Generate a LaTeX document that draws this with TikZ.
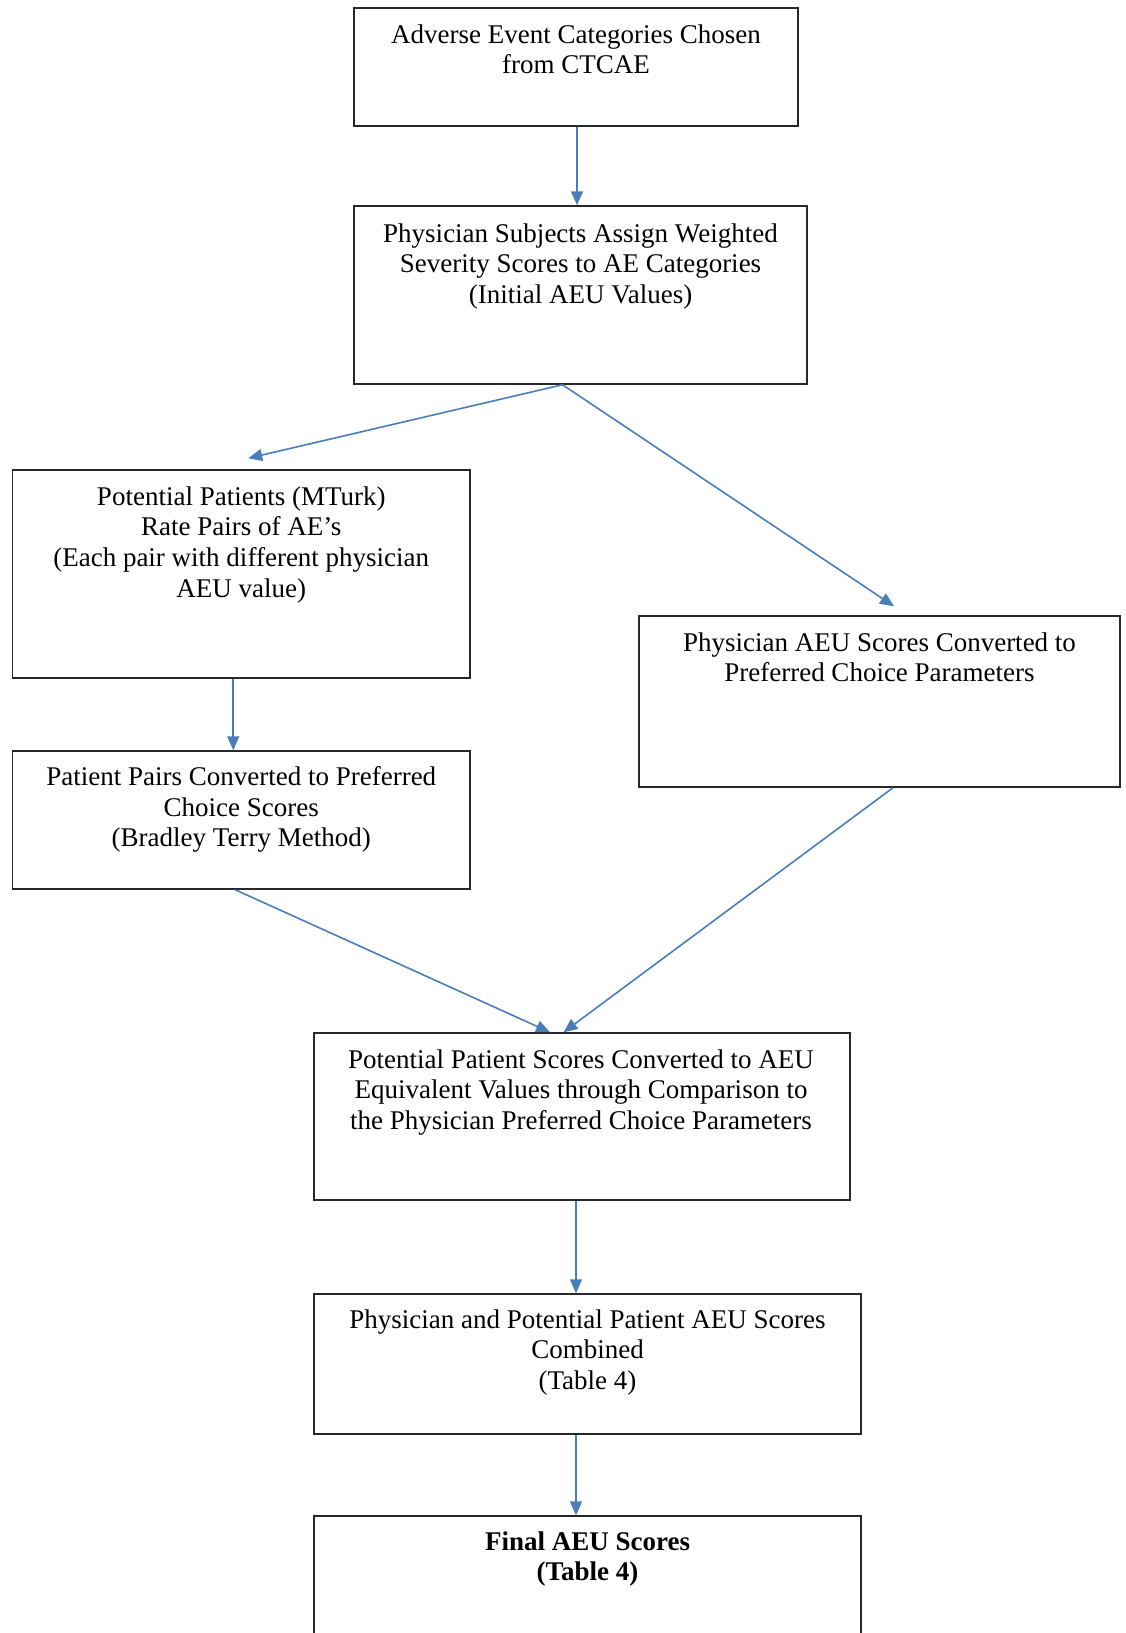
\documentclass[tikz,border=0pt]{standalone}
\usepackage{fontspec}
\setmainfont{Liberation Serif}
\usetikzlibrary{arrows.meta,calc}
\definecolor{arrowblue}{RGB}{74,126,187}
\definecolor{boxline}{RGB}{40,40,40}
\tikzset{
  flowbox/.style={draw=boxline, line width=1.5pt, inner sep=0pt},
  boxtext/.style={anchor=north, inner sep=0pt, align=center, font=\fontsize{27}{30.7}\selectfont},
  flowarrow/.style={draw=arrowblue, line width=1.6pt, -{Triangle[width=12pt,length=14pt]}}
}
\begin{document}
\begin{tikzpicture}[x=1pt,y=-1pt]
\clip (0,0) rectangle (1125,1633);
\useasboundingbox (0,0) rectangle (1125,1633);
\fill[white] (0,0) rectangle (1125,1633);

\node[flowbox, minimum width=444pt, minimum height=118pt] (b1) at (576,67) {};
\node[flowbox, minimum width=453pt, minimum height=178pt] (b2) at (580.5,295) {};
\node[flowbox, minimum width=457.5pt, minimum height=208pt] (b3) at (241.25,574) {};
\node[flowbox, minimum width=481pt, minimum height=171pt] (b4) at (879.5,701.5) {};
\node[flowbox, minimum width=457.5pt, minimum height=138pt] (b5) at (241.25,820) {};
\node[flowbox, minimum width=536pt, minimum height=167pt] (b6) at (582,1116.5) {};
\node[flowbox, minimum width=547pt, minimum height=140pt] (b7) at (587.5,1364) {};
\node[flowbox, minimum width=547pt, minimum height=144pt] (b8) at (587.5,1588) {};

\node[boxtext] (t1) at ([yshift=-17pt]b1.north) {Adverse Event Categories Chosen\\from CTCAE};
\node[boxtext] (t2) at ([yshift=-18pt]b2.north) {Physician Subjects Assign Weighted\\Severity Scores to AE Categories\\(Initial AEU Values)};
\node[boxtext] (t3) at ([yshift=-17pt]b3.north) {Potential Patients (MTurk)\\Rate Pairs of AE’s\\(Each pair with different physician\\AEU value)};
\node[boxtext] (t4) at ([yshift=-17pt]b4.north) {Physician AEU Scores Converted to\\Preferred Choice Parameters};
\node[boxtext] (t5) at ([yshift=-16pt]b5.north) {Patient Pairs Converted to Preferred\\Choice Scores\\(Bradley Terry Method)};
\node[boxtext] (t6) at ([yshift=-17pt,xshift=-1pt]b6.north) {Potential Patient Scores Converted to AEU\\Equivalent Values through Comparison to\\the Physician Preferred Choice Parameters};
\node[boxtext] (t7) at ([yshift=-16pt]b7.north) {Physician and Potential Patient AEU Scores\\Combined\\(Table 4)};
\node[boxtext, font=\fontsize{27}{30.7}\selectfont\bfseries] (t8) at ([yshift=-16pt]b8.north) {Final AEU Scores\\(Table 4)};

\draw[flowarrow] ([xshift=1pt]b1.south) -- ([xshift=1pt]b1.south |- b2.north);
\draw[flowarrow] ([xshift=-18pt]b2.south) -- ([xshift=7pt,yshift=11pt]b3.north);
\draw[flowarrow] ([xshift=-18pt]b2.south) -- ([xshift=14.5pt,yshift=9pt]b4.north);
\draw[flowarrow] ([xshift=-8pt]b3.south) -- ([xshift=-8pt]b5.north);
\draw[flowarrow] ([xshift=-6pt]b5.south) -- ([xshift=-32pt]b6.north);
\draw[flowarrow] ([xshift=13.5pt]b4.south) -- ([xshift=-18.5pt]b6.north);
\draw[flowarrow] ([xshift=-6pt]b6.south) -- ([xshift=-6pt]b6.south |- b7.north);
\draw[flowarrow] ([xshift=-11.5pt]b7.south) -- ([xshift=-11.5pt]b7.south |- b8.north);
\end{tikzpicture}
\end{document}
